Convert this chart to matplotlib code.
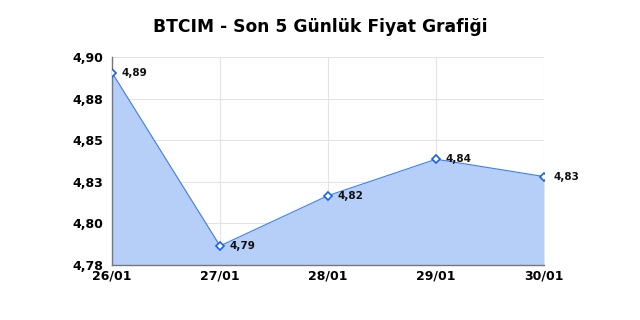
import matplotlib
matplotlib.use('Agg')
import matplotlib.pyplot as plt
from matplotlib.ticker import FuncFormatter

dates = ['26/01', '27/01', '28/01', '29/01', '30/01']
prices = [4.891, 4.791, 4.820, 4.841, 4.831]
price_labels = ['4,89', '4,79', '4,82', '4,84', '4,83']
y_ticks = [4.78, 4.804, 4.828, 4.852, 4.876, 4.90]

LINE_COLOR = '#3a7cf5'
FILL_COLOR = '#b5cff9'

fig = plt.figure(figsize=(6.4, 3.2), dpi=100)
ax = fig.add_axes([0.175, 0.172, 0.675, 0.65])

x = list(range(len(dates)))
ax.fill_between(x, prices, 4.78, color=FILL_COLOR, linewidth=0, zorder=1)
ax.plot(x, prices, color=LINE_COLOR, linewidth=0.8, zorder=2)
ax.plot(x, prices, linestyle='none', marker='D', markersize=4,
        markerfacecolor='white', markeredgecolor='#1a5ff0', markeredgewidth=1.2, zorder=3)

for xi, yi, lab in zip(x, prices, price_labels):
    ax.annotate(lab, (xi, yi), xytext=(6.5, 0), textcoords='offset points',
                va='center', fontsize=7.5, fontweight='bold', color='#111111', zorder=4)

ax.set_xlim(0, len(dates) - 1)
ax.set_ylim(4.78, 4.90)
ax.set_xticks(x)
ax.set_xticklabels(dates)
ax.set_yticks(y_ticks)
ax.yaxis.set_major_formatter(FuncFormatter(lambda v, p: f'{v:.2f}'.replace('.', ',')))

for lbl in ax.get_xticklabels() + ax.get_yticklabels():
    lbl.set_fontweight('bold')
    lbl.set_fontsize(9)
ax.tick_params(axis='x', length=0, pad=3)
ax.tick_params(axis='y', length=0, pad=6.5)

ax.grid(True, color='#e3e3e3', linewidth=0.8, zorder=0)
ax.set_axisbelow(True)
for s in ['top', 'right']:
    ax.spines[s].set_visible(False)
for s in ['left', 'bottom']:
    ax.spines[s].set_color('#777777')
    ax.spines[s].set_linewidth(1.0)

fig.suptitle('BTCIM - Son 5 Günlük Fiyat Grafiği', fontsize=12.3, fontweight='bold', y=0.945)

fig.savefig('out.png', dpi=100)
